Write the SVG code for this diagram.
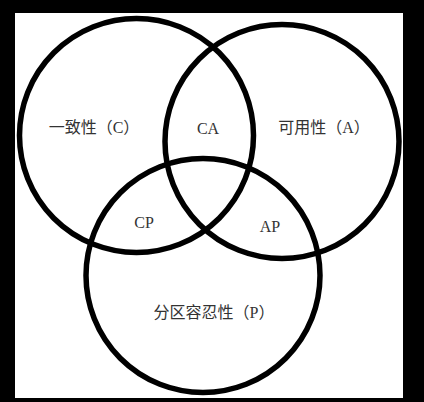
<svg xmlns="http://www.w3.org/2000/svg" width="424" height="402" viewBox="0 0 424 402">
<style>
.c{fill:none;stroke:#000;stroke-width:5.5}
.t{font-family:"Liberation Serif","Noto Sans CJK SC",serif;font-size:16px;fill:#333;text-anchor:middle}
</style>
<rect width="424" height="402" fill="#000"/>
<rect x="15" y="13" width="388" height="385" fill="#fff"/>
<g id="circles">
<g id="C"><circle class="c" cx="136.5" cy="135.5" r="117"/></g>
<g id="A"><circle class="c" cx="282" cy="141.5" r="117"/></g>
<g id="P"><circle class="c" cx="203" cy="275.5" r="117"/></g>
</g>
<g id="labels">
<text class="t" x="94" y="133">一致性（C）</text>
<text class="t" x="208" y="134">CA</text>
<text class="t" x="324" y="133">可用性（A）</text>
<text class="t" x="144" y="228">CP</text>
<text class="t" x="270" y="232">AP</text>
<text class="t" x="214" y="318">分区容忍性（P）</text>
</g>
</svg>
